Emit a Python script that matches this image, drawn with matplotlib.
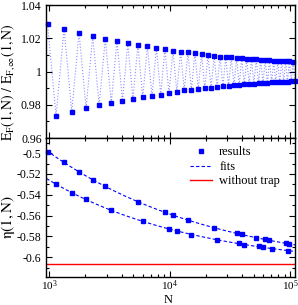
import matplotlib
matplotlib.use("Agg")
import matplotlib.pyplot as plt
import numpy as np
from matplotlib.ticker import FuncFormatter, MultipleLocator, LogLocator, NullFormatter

plt.rcParams["font.family"] = ["Liberation Serif", "DejaVu Serif"]
plt.rcParams["mathtext.fontset"] = "stix"
plt.rcParams["axes.unicode_minus"] = False

# shell-closure particle numbers (n = 16 ... 85)
n_shell = [969, 1140, 1330, 1540, 1771, 2024, 2300, 2600, 2925, 3276,
           3654, 4060, 4495, 4960, 5456, 5984, 6545, 7140, 7770, 8436,
           9139, 9880, 10660, 11480, 12341, 13244, 14190, 15180, 16215, 17296,
           18424, 19600, 20825, 22100, 23426, 24804, 26235, 27720, 29260, 30856,
           32509, 34220, 35990, 37820, 39711, 41664, 43680, 45760, 47905, 50116,
           52394, 54740, 57155, 59640, 62196, 64824, 67525, 70300, 73150, 76076,
           79079, 82160, 85320, 88560, 91881, 95284, 98770, 102340, 105995, 109736]

# E_F(1,N) / E_F,inf(1,N), alternating high (even shell) / low (odd shell)
ef_ratio = [1.0288, 0.9733, 1.0257, 0.9759, 1.0233, 0.9780, 1.0216, 0.9796,
            1.0198, 0.9812, 1.0184, 0.9824, 1.0169, 0.9835, 1.0161, 0.9845,
            1.0151, 0.9851, 1.0141, 0.9861, 1.0135, 0.9869, 1.0126, 0.9878,
            1.0120, 0.9886, 1.0116, 0.9890, 1.0110, 0.9894, 1.0104, 0.9898,
            1.0098, 0.9902, 1.0094, 0.9906, 1.0089, 0.9910, 1.0088, 0.9914,
            1.0086, 0.9916, 1.0081, 0.9920, 1.0080, 0.9922, 1.0077, 0.9924,
            1.0075, 0.9927, 1.0073, 0.9928, 1.0071, 0.9930, 1.0069, 0.9933,
            1.0067, 0.9935, 1.0065, 0.9935, 1.0065, 0.9936, 1.0063, 0.9939,
            1.0061, 0.9939, 1.0061, 0.9941, 1.0059, 0.9942]

# eta(1,N), two branches
n_upper = [969, 1330, 1771, 2300, 2925, 5456, 9139, 10660, 14190, 23426,
           35990, 39711, 52394, 62196, 67525, 91881, 98770]
eta_upper = [-0.4986, -0.5085, -0.5180, -0.5256, -0.5320, -0.5469, -0.5570,
             -0.5595, -0.5646, -0.5716, -0.5769, -0.5781, -0.5816, -0.5829,
             -0.5839, -0.5864, -0.5873]
n_lower = [1140, 1540, 2024, 3276, 5984, 9880, 11480, 15180, 24804, 37820,
           41664, 54740, 59640, 70300, 95284]
eta_lower = [-0.5299, -0.5380, -0.5445, -0.5550, -0.5652, -0.5730, -0.5750,
             -0.5783, -0.5833, -0.5868, -0.5878, -0.5896, -0.5906, -0.5918,
             -0.5937]
eta_no_trap = -0.6061

xlim = (950, 1.1e5)
blue = "#0000ff"

fig = plt.figure(figsize=(2.98, 3.05), dpi=100)
ax1 = fig.add_axes([0.156, 0.5475, 0.834, 0.436])
ax2 = fig.add_axes([0.156, 0.0918, 0.834, 0.4557])

ax1.plot(n_shell, ef_ratio, ls=":", lw=0.8, color=blue, alpha=0.45, clip_on=False)
ax1.plot(n_shell, ef_ratio, ls="none", marker="s", ms=3.2, color=blue,
         mec=blue, clip_on=False)
ax1.set_ylim(0.96, 1.04)
ax1.yaxis.set_major_locator(MultipleLocator(0.02))
ax1.yaxis.set_minor_locator(MultipleLocator(0.01))
ax1.set_ylabel(r"$\mathrm{E_F(1,N)\ /\ E_{F,\infty}(1,N)}$", fontsize=10)
ax1.yaxis.set_label_coords(-0.118, 0.42)

# fits: eta = c0 + c1 N^(-1/3) + c2 N^(-2/3)
nn = np.geomspace(xlim[0], xlim[1], 300)
for i, (nx, ey) in enumerate([(n_upper, eta_upper), (n_lower, eta_lower)]):
    coef = np.polyfit(np.array(nx) ** (-1 / 3), ey, 2)
    ax2.plot(nn, np.polyval(coef, nn ** (-1 / 3)), ls=(0, (3, 2)), lw=0.8,
             color=blue, label="fits" if i == 0 else None)
ax2.plot(n_upper, eta_upper, ls="none", marker="s", ms=3.2, color=blue,
         label="results", clip_on=False)
ax2.plot(n_lower, eta_lower, ls="none", marker="s", ms=3.2, color=blue)
ax2.axhline(eta_no_trap, color="red", lw=1.0, label="without trap")
ax2.set_ylim(-0.619, -0.4855)
ax2.yaxis.set_major_locator(MultipleLocator(0.02))
ax2.yaxis.set_minor_locator(MultipleLocator(0.01))
ax2.set_ylabel(r"$\mathrm{\eta(1,N)}$", fontsize=11)
ax2.yaxis.set_label_coords(-0.118, 0.43)
ax2.set_xlabel("N", fontsize=9)
ax2.xaxis.set_label_coords(0.49, -0.122)

h, l = ax2.get_legend_handles_labels()
order = [l.index("results"), l.index("fits"), l.index("without trap")]
ax2.legend([h[i] for i in order], [l[i] for i in order], loc="upper right",
           bbox_to_anchor=(0.985, 1.02), frameon=False, fontsize=9,
           handlelength=1.7, handletextpad=0.6, labelspacing=0.2)

fmt = FuncFormatter(lambda v, p: "%g" % round(v, 4))
for ax in (ax1, ax2):
    ax.set_xscale("log")
    ax.set_xlim(*xlim)
    ax.xaxis.set_major_locator(LogLocator(base=10))
    ax.xaxis.set_minor_locator(LogLocator(base=10, subs=np.arange(2, 10)))
    ax.xaxis.set_minor_formatter(NullFormatter())
    ax.yaxis.set_major_formatter(fmt)
    ax.tick_params(which="both", direction="in", top=True, right=True,
                   labelsize=8.5, width=0.8)
    ax.tick_params(which="major", length=4)
    ax.tick_params(which="minor", length=2)
    for s in ax.spines.values():
        s.set_linewidth(1.0)
ax2.tick_params(axis="x", pad=1, labelsize=8)
ax1.tick_params(labelbottom=False)

fig.savefig("out.png", dpi=100)
